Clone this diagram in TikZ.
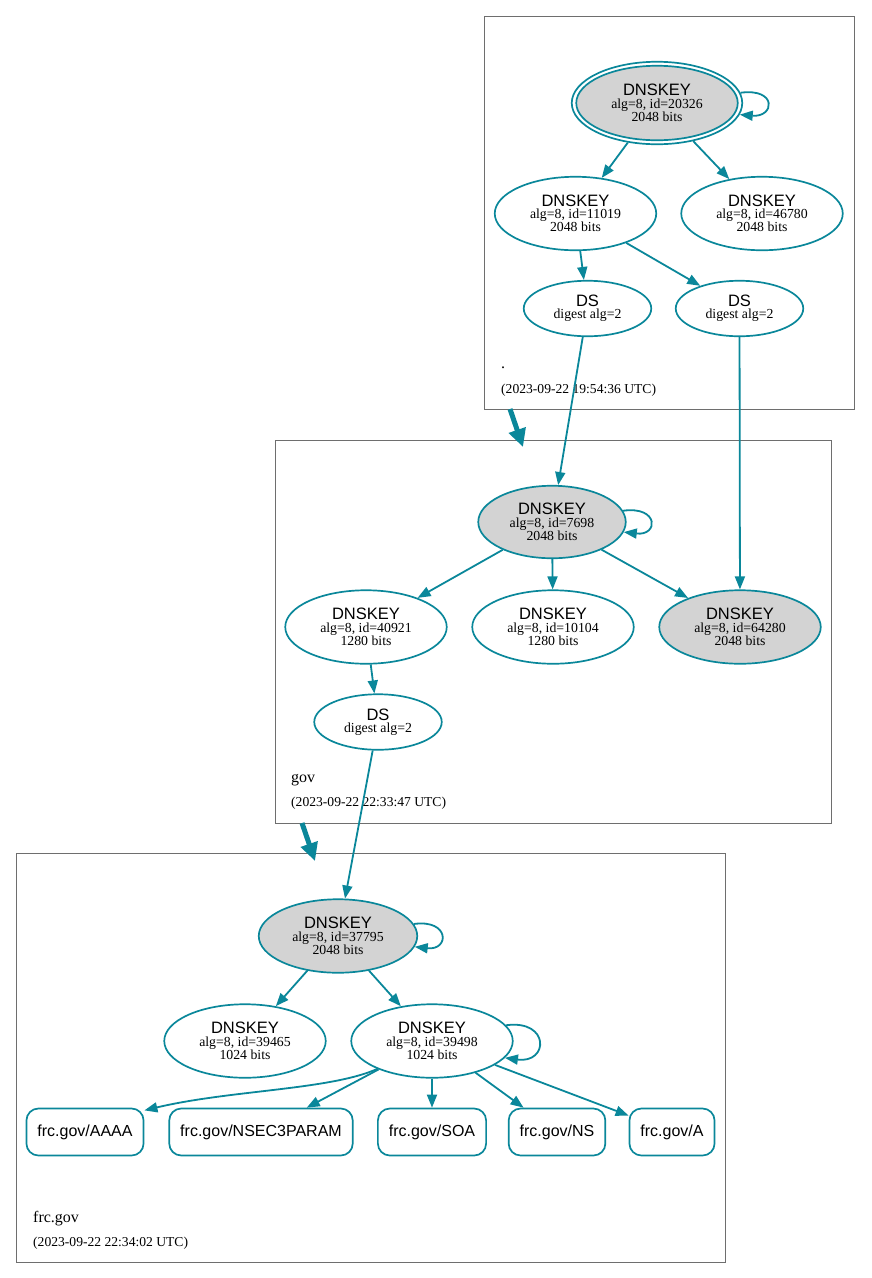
\documentclass[tikz,border=0pt]{standalone}
\usepackage{fontspec}
\setmainfont{Liberation Serif}
\newfontfamily\sansf{Liberation Sans}
\usetikzlibrary{shapes.geometric,arrows.meta}
\definecolor{secteal}{HTML}{0A879A}
\definecolor{kskgray}{HTML}{D3D3D3}
\definecolor{zonegray}{HTML}{6E6E6E}
\newcommand{\dnsk}{{\sansf\fontsize{16.5}{16.5}\selectfont DNSKEY}\\[-1pt]}
\newcommand{\dsk}{{\sansf\fontsize{16.5}{16.5}\selectfont DS}\\[-1pt]}
\tikzset{
  keynode/.style={ellipse, draw=secteal, line width=1.7pt, minimum width=161.5pt, minimum height=73.5pt, inner sep=0pt, align=center, font=\fontsize{13.8}{13.3}\selectfont},
  ksknode/.style={keynode, fill=kskgray},
  dsnode/.style={ellipse, draw=secteal, line width=1.7pt, minimum width=127.5pt, minimum height=55.5pt, inner sep=0pt, align=center, font=\fontsize{13.8}{13.3}\selectfont},
  rrnode/.style={rectangle, rounded corners=12pt, draw=secteal, line width=1.7pt, minimum height=47pt, inner xsep=11pt, inner ysep=0pt, font=\sansf\fontsize{16}{16}\selectfont},
  edge/.style={draw=secteal, line width=1.8pt, -{Triangle[length=13pt,width=10pt]}},
  deleg/.style={draw=secteal, line width=5pt, -{Triangle[length=18pt,width=17pt]}},
  zone/.style={draw=zonegray, line width=1pt, rectangle, inner sep=0pt, anchor=north west},
  zlabel/.style={anchor=west, inner sep=0pt, font=\fontsize{16}{16}\selectfont},
  zstamp/.style={anchor=west, inner sep=0pt, font=\fontsize{13.6}{13.6}\selectfont},
}
\begin{document}
\begin{tikzpicture}[x=1pt,y=-1pt]
\useasboundingbox (0,0) rectangle (871,1278);
% zones
\node[zone, minimum width=370pt, minimum height=393pt] (zroot) at (484,16) {};
\node[zone, minimum width=556pt, minimum height=383pt] (zgov) at (275,440) {};
\node[zone, minimum width=709pt, minimum height=409pt] (zfrc) at (16,853) {};
\node[zlabel] (lroot) at (501,368) {.};
\node[zstamp] (sroot) at (501,390) {(2023-09-22 19:54:36 UTC)};
\node[zlabel] (lgov) at (291,780) {gov};
\node[zstamp] (sgov) at (291,803) {(2023-09-22 22:33:47 UTC)};
\node[zlabel] (lfrc) at (33,1219) {frc.gov};
\node[zstamp] (sfrc) at (33,1243) {(2023-09-22 22:34:02 UTC)};
% root zone
\node[ellipse, draw=secteal, line width=1.7pt, minimum width=170.5pt, minimum height=82.5pt, inner sep=0pt] (k20326o) at (657,103) {};
\node[ksknode, minimum width=161.5pt, minimum height=74.5pt] (k20326) at (657,103) {\dnsk alg=8, id=20326\\2048 bits};
\node[keynode] (k11019) at (575.5,213.5) {\dnsk alg=8, id=11019\\2048 bits};
\node[keynode] (k46780) at (762,213.5) {\dnsk alg=8, id=46780\\2048 bits};
\node[dsnode] (ds1) at (587.5,308.5) {\dsk digest alg=2};
\node[dsnode] (ds2) at (739.5,308.5) {\dsk digest alg=2};
% gov zone
\node[ksknode, minimum width=147.5pt, minimum height=72.5pt] (k7698) at (552,522) {\dnsk alg=8, id=7698\\2048 bits};
\node[keynode] (k40921) at (366,627) {\dnsk alg=8, id=40921\\1280 bits};
\node[keynode] (k10104) at (553,627) {\dnsk alg=8, id=10104\\1280 bits};
\node[ksknode] (k64280) at (740,627) {\dnsk alg=8, id=64280\\2048 bits};
\node[dsnode] (ds3) at (378,722) {\dsk digest alg=2};
% frc.gov zone
\node[ksknode, minimum width=158.5pt] (k37795) at (338,936) {\dnsk alg=8, id=37795\\2048 bits};
\node[keynode] (k39465) at (245,1041) {\dnsk alg=8, id=39465\\1024 bits};
\node[keynode] (k39498) at (432,1041) {\dnsk alg=8, id=39498\\1024 bits};
\node[rrnode] (aaaa) at (85,1132) {frc.gov/AAAA};
\node[rrnode] (nsec) at (261,1132) {frc.gov/NSEC3PARAM};
\node[rrnode] (soa) at (432,1132) {frc.gov/SOA};
\node[rrnode] (ns) at (557,1132) {frc.gov/NS};
\node[rrnode] (arec) at (672,1132) {frc.gov/A};
% edges root
\draw[edge] (k20326o.7) .. controls +(37,-5) and +(35,3) .. (k20326o.-8);
\draw[edge] (k20326o) -- (k11019);
\draw[edge] (k20326o) -- (k46780);
\draw[edge] (k11019) -- (ds1);
\draw[edge] (k11019) -- (ds2);
\draw[edge] (ds1) -- (k7698);
\draw[edge] (ds2) -- (k64280);
% delegations
\coordinate (d1s) at (510,409);
\coordinate (d1e) at (523,447);
\draw[deleg] (d1s) -- (d1e);
\coordinate (d2s) at (302,823);
\coordinate (d2e) at (315,861);
\draw[deleg] (d2s) -- (d2e);
% edges gov
\draw[edge] (k7698.9) .. controls +(36,-5) and +(35,4) .. (k7698.-8);
\draw[edge] (k7698) -- (k40921);
\draw[edge] (k7698) -- (k10104);
\draw[edge] (k7698) -- (k64280);
\draw[edge] (k40921) -- (ds3);
\draw[edge] (ds3) -- (k37795);
% edges frc.gov
\draw[edge] (k37795.9) .. controls +(36,-5) and +(35,4) .. (k37795.-8);
\draw[edge] (k37795) -- (k39465);
\draw[edge] (k37795) -- (k39498);
\draw[edge] (k39498.12) .. controls +(44,-6) and +(44,6) .. (k39498.-13);
\draw[edge] (k39498.207) .. controls (330,1090) and (230,1090) .. (aaaa.20);
\draw[edge] (k39498) -- (nsec);
\draw[edge] (k39498) -- (soa);
\draw[edge] (k39498) -- (ns);
\draw[edge] (k39498) -- (arec);
\end{tikzpicture}
\end{document}
